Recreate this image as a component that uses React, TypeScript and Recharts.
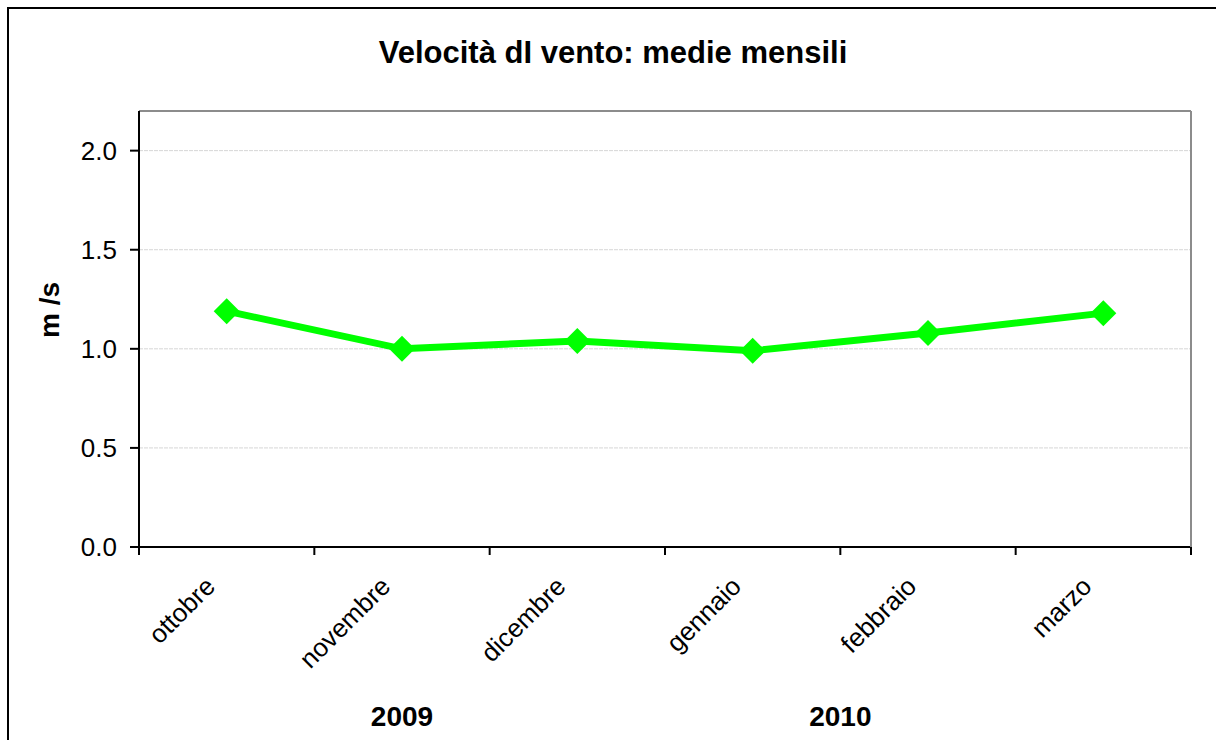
import { LineChart, Line, XAxis, YAxis, CartesianGrid } from "recharts"

const FONT = "'Liberation Sans', Arial, sans-serif"

const months = ["ottobre", "novembre", "dicembre", "gennaio", "febbraio", "marzo"]
const speed = [1.19, 1.0, 1.04, 0.99, 1.08, 1.18]
const yTicks = [0, 0.5, 1, 1.5, 2]
const years = ["2009", "2010"]
const yearPos = [1.5, 4]
const monthBounds = [0, 1, 2, 3, 4, 5, 6]

const data = months.map((m, i) => ({ month: m, pos: i + 0.5, speed: speed[i] }))
const monthPos = data.map((d) => d.pos)

function MonthTick({ x, y, payload }: any) {
  const label = months[Math.floor(payload.value)]
  return (
    <g transform={`translate(${x - 10},${y + 40})`}>
      <text textAnchor="end" transform="rotate(-45)" fontSize={26} fontFamily={FONT} fill="#000">
        {label}
      </text>
    </g>
  )
}

function Diamond({ cx, cy }: any) {
  const r = 13
  return <polygon points={`${cx},${cy - r} ${cx + r},${cy} ${cx},${cy + r} ${cx - r},${cy}`} fill="#00ff00" />
}

export default function App() {
  return (
    <div style={{ position: "absolute", left: 0, top: 0, width: 1216, height: 740, overflow: "hidden", background: "#fff" }}>
      <div
        style={{
          position: "absolute",
          left: 7,
          top: 7,
          width: 1220,
          height: 760,
          border: "2px solid #000",
          boxSizing: "border-box",
          pointerEvents: "none",
        }}
      />
      <LineChart width={1216} height={740} data={data} margin={{ top: 110, right: 24, bottom: 0, left: 0 }}>
        <CartesianGrid xAxisId="cat" yAxisId="left" horizontal vertical={false} stroke="#d6d6d6" strokeDasharray="4 1" />
        <XAxis
          xAxisId="bounds"
          type="number"
          dataKey="pos"
          domain={[0, 6]}
          ticks={monthBounds}
          interval={0}
          height={1}
          tickFormatter={() => ""}
          tickSize={8}
          axisLine={{ stroke: "#000", strokeWidth: 2 }}
          tickLine={{ stroke: "#000", strokeWidth: 2 }}
        />
        <XAxis
          xAxisId="cat"
          type="number"
          dataKey="pos"
          domain={[0, 6]}
          ticks={monthPos}
          interval={0}
          height={129}
          tickSize={0}
          tickMargin={0}
          axisLine={false}
          tickLine={false}
          tick={<MonthTick />}
        />
        <XAxis
          xAxisId="year"
          type="number"
          dataKey="pos"
          domain={[0, 6]}
          ticks={yearPos}
          interval={0}
          height={63}
          tickSize={0}
          tickMargin={29}
          axisLine={false}
          tickLine={false}
          tickFormatter={(v: number) => years[yearPos.indexOf(v)]}
          tick={{ fontSize: 28, fontWeight: "bold", fill: "#000", fontFamily: FONT }}
        />
        <XAxis
          xAxisId="top"
          orientation="top"
          type="number"
          dataKey="pos"
          domain={[0, 6]}
          height={1}
          tick={false}
          tickLine={false}
          axisLine={{ stroke: "#8c8c8c", strokeWidth: 2 }}
        />
        <YAxis
          yAxisId="left"
          domain={[0, 2.2]}
          ticks={yTicks}
          interval={0}
          width={139}
          tickSize={9}
          tickMargin={13}
          tickFormatter={(v: number) => v.toFixed(1)}
          tick={{ fontSize: 26, fill: "#000", fontFamily: FONT }}
          axisLine={{ stroke: "#000", strokeWidth: 2 }}
          tickLine={{ stroke: "#000", strokeWidth: 2 }}
        />
        <YAxis
          yAxisId="right"
          orientation="right"
          domain={[0, 2.2]}
          width={1}
          tick={false}
          tickLine={false}
          axisLine={{ stroke: "#8c8c8c", strokeWidth: 2 }}
        />
        <Line
          xAxisId="cat"
          yAxisId="left"
          type="linear"
          dataKey="speed"
          stroke="#00ff00"
          strokeWidth={7}
          dot={<Diamond />}
          activeDot={false}
          isAnimationActive={false}
        />
        <text x={613} y={63} textAnchor="middle" fontSize={31} fontWeight="bold" fontFamily={FONT} fill="#000">
          Velocità dI vento: medie mensili
        </text>
        <text
          x={49}
          y={310}
          transform="rotate(-90 49 310)"
          textAnchor="middle"
          dominantBaseline="central"
          fontSize={28}
          fontWeight="bold"
          fontFamily={FONT}
          fill="#000"
        >
          m /s
        </text>
      </LineChart>
    </div>
  )
}
